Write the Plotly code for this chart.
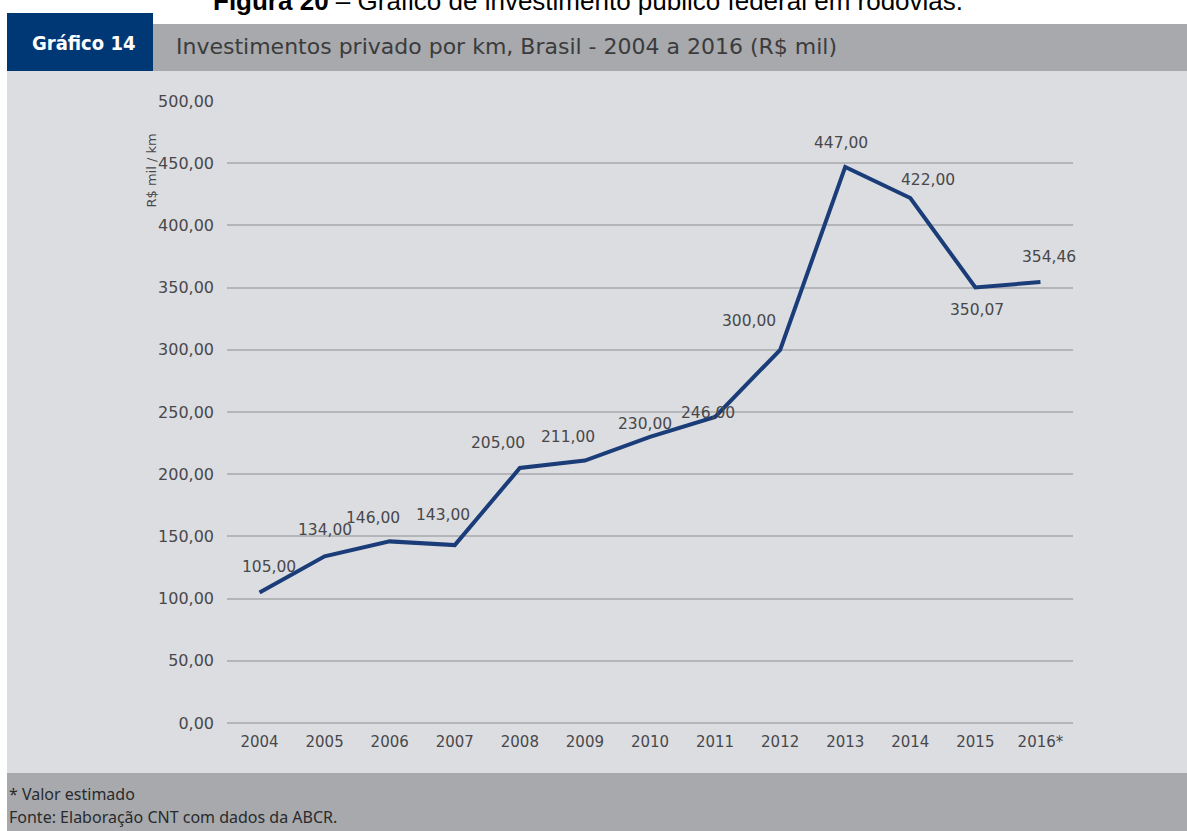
import plotly.graph_objects as go

# Série: investimento privado por km (R$ mil), concessões rodoviárias
anos = ["2004", "2005", "2006", "2007", "2008", "2009", "2010",
        "2011", "2012", "2013", "2014", "2015", "2016*"]
valores = [105.00, 134.00, 146.00, 143.00, 205.00, 211.00, 230.00,
           246.00, 300.00, 447.00, 422.00, 350.07, 354.46]
rotulos = ["105,00", "134,00", "146,00", "143,00", "205,00", "211,00", "230,00",
           "246,00", "300,00", "447,00", "422,00", "350,07", "354,46"]

# deslocamento (px) de cada rótulo em relação ao ponto
desloc_x = [9, 0, -17, -12, -22, -17, -5, -7, -31, -4, 18, 2, 9]
desloc_y = [25, 26, 23, 30, 25, 24, 13, 4, 29, 24, 18, -22, 25]

AZUL = "#1a3c78"
TEXTO = "#48484b"
CINZA_FAIXA = "#a7a9ac"
FUNDO = "#dcdde1"
FONTE = "DejaVu Sans"

W, H = 1187, 831
PL, PR, PT, PB = 227, 1073, 101, 723


def px(x):
    return (x - PL) / (PR - PL)


def py(y):
    return (PB - y) / (PB - PT)


fig = go.Figure()
fig.add_trace(go.Scatter(
    x=list(range(len(anos))), y=valores, mode="lines",
    line=dict(color=AZUL, width=4),
    hoverinfo="skip", showlegend=False,
))

annotations = []
for i, (v, t, dx, dy) in enumerate(zip(valores, rotulos, desloc_x, desloc_y)):
    annotations.append(dict(
        x=i, y=v, xref="x", yref="y", text=t, showarrow=False,
        xshift=dx, yshift=dy,
        font=dict(family=FONTE, size=15.5, color=TEXTO),
    ))

annotations += [
    # título do eixo y
    dict(x=px(142), y=py(132), xref="paper", yref="paper", text="R$ mil / km",
         showarrow=False, textangle=-90,
         font=dict(family=FONTE, size=13, color=TEXTO)),
    dict(x=px(588), y=py(1), xref="paper", yref="paper",
         text="<b>Figura 20</b> – Gráfico de investimento público federal em rodovias.",
         showarrow=False, xanchor="center", yanchor="middle",
         font=dict(family="Liberation Sans", size=26, color="#000000")),
    dict(x=px(83), y=py(43), xref="paper", yref="paper",
         text="<b>Gráfico 14</b>", showarrow=False,
         xanchor="center", yanchor="middle",
         font=dict(family="DejaVu Sans Condensed", size=20, color="#ffffff")),
    dict(x=px(174), y=py(47), xref="paper", yref="paper",
         text="Investimentos privado por km, Brasil - 2004 a 2016 (R$ mil)",
         showarrow=False, xanchor="left", yanchor="middle",
         font=dict(family=FONTE, size=22, color="#3b3b3d")),
    dict(x=px(7), y=py(794), xref="paper", yref="paper",
         text="* Valor estimado", showarrow=False,
         xanchor="left", yanchor="middle",
         font=dict(family="Noto Sans", size=16, color="#2a2a2c")),
    dict(x=px(7), y=py(817), xref="paper", yref="paper",
         text="Fonte: Elaboração CNT com dados da ABCR.", showarrow=False,
         xanchor="left", yanchor="middle",
         font=dict(family="Noto Sans", size=16, color="#2a2a2c")),
]

shapes = [
    # fundo claro do gráfico
    dict(type="rect", xref="paper", yref="paper", layer="below",
         x0=px(7), x1=px(W), y0=py(773), y1=py(71),
         fillcolor=FUNDO, line=dict(width=0)),
    # faixa cinza do título
    dict(type="rect", xref="paper", yref="paper", layer="below",
         x0=px(153), x1=px(W), y0=py(71), y1=py(24),
         fillcolor=CINZA_FAIXA, line=dict(width=0)),
    # caixa azul do número do gráfico
    dict(type="rect", xref="paper", yref="paper", layer="below",
         x0=px(7), x1=px(153), y0=py(71), y1=py(13),
         fillcolor="#003875", line=dict(width=0)),
    # rodapé cinza
    dict(type="rect", xref="paper", yref="paper", layer="below",
         x0=px(7), x1=px(W), y0=py(H), y1=py(773),
         fillcolor=CINZA_FAIXA, line=dict(width=0)),
]

fig.update_layout(
    width=W, height=H,
    margin=dict(l=PL, r=W - PR, t=PT, b=H - PB, pad=0),
    paper_bgcolor="#ffffff", plot_bgcolor="rgba(0,0,0,0)",
    separators=",.",
    annotations=annotations, shapes=shapes,
    xaxis=dict(
        range=[-0.5, len(anos) - 0.5],
        tickmode="array", tickvals=list(range(len(anos))), ticktext=anos,
        showgrid=False, showline=False, zeroline=False,
        ticks="", ticklabelstandoff=8,
        tickfont=dict(family=FONTE, size=15, color=TEXTO),
    ),
    yaxis=dict(
        range=[0, 500], dtick=50, tickformat=".2f",
        showgrid=True, gridcolor="#b4b5b9", gridwidth=2,
        zeroline=True, zerolinecolor="#b4b5b9", zerolinewidth=2,
        showline=False, ticks="", ticklabelstandoff=12,
        tickfont=dict(family=FONTE, size=16, color=TEXTO),
    ),
)

fig.write_html("out.html")
